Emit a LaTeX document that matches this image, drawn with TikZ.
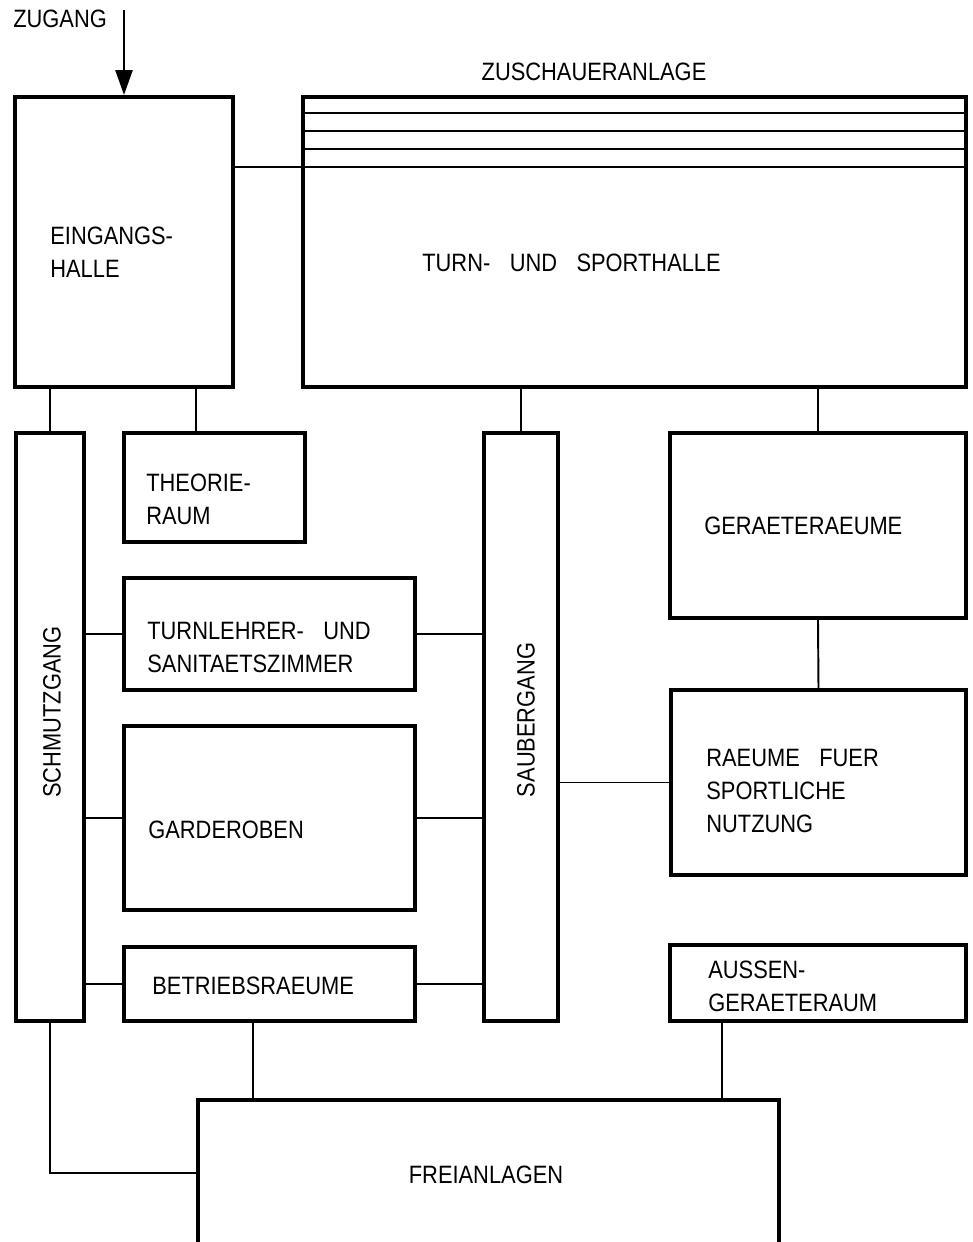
\documentclass[tikz,border=0pt]{standalone}
\usepackage{fontspec}
\setmainfont[FakeStretch=0.87,WordSpace=3.2]{Liberation Sans}
\usetikzlibrary{arrows.meta, positioning, calc}

\begin{document}
\begin{tikzpicture}[x=0.02cm, y=-0.02cm,
    every node/.style={font=\fontsize{14.3}{18.8}\selectfont},
    raum/.style={draw, line width=2.3pt, inner sep=0pt},
    txt/.style={anchor=west, align=left, inner sep=0pt},
    link/.style={line width=1.1pt},
    stripe/.style={line width=1.3pt}]
    \path[use as bounding box, clip] (0,0) rectangle (973,1242);

    % Raeume
    \node[raum, minimum width=4.36cm, minimum height=5.8cm] (eingang) at (124,242) {};
    \node[raum, minimum width=13.26cm, minimum height=5.8cm] (halle) at (634.5,242) {};
    \node[raum, minimum width=1.36cm, minimum height=11.76cm] (schmutz) at (50,727) {};
    \node[raum, minimum width=3.62cm, minimum height=2.18cm] (theorie) at (214.5,487.5) {};
    \node[raum, minimum width=1.48cm, minimum height=11.76cm] (sauber) at (521,727) {};
    \node[raum, minimum width=5.92cm, minimum height=3.7cm] (geraete) at (818,525.5) {};
    \node[raum, minimum width=5.82cm, minimum height=2.24cm] (turnlehrer) at (269.5,634) {};
    \node[raum, minimum width=5.82cm, minimum height=3.68cm] (garderoben) at (269.5,818) {};
    \node[raum, minimum width=5.9cm, minimum height=3.7cm] (sportraum) at (818.5,782.5) {};
    \node[raum, minimum width=5.82cm, minimum height=1.48cm] (betrieb) at (269.5,984) {};
    \node[raum, minimum width=5.92cm, minimum height=1.52cm] (aussen) at (818,983) {};
    \node[raum, minimum width=11.62cm, minimum height=4cm] (frei) at (488.5,1200) {};

    % Zuschaueranlage
    \foreach \y in {113,131,149,167} {
        \draw[stripe] (halle.west |- 0,\y) -- (halle.east |- 0,\y);
    }

    % Beschriftung
    \node[txt] (zugangtxt) at (13,19) {ZUGANG};
    \node (zuschauertxt) at (594,72) {ZUSCHAUERANLAGE};
    \node[txt] (eingangtxt) at (50,252) {EINGANGS-\\HALLE};
    \node[txt] (halletxt) at (422,263) {TURN- UND SPORTHALLE};
    \node[txt] (theorietxt) at (146,499) {THEORIE-\\RAUM};
    \node[txt] (turnlehrertxt) at (147,647) {TURNLEHRER- UND\\SANITAETSZIMMER};
    \node[txt] (garderobentxt) at (148,830) {GARDEROBEN};
    \node[txt] (betriebtxt) at (152,986) {BETRIEBSRAEUME};
    \node[txt] (geraetetxt) at (704,526) {GERAETERAEUME};
    \node[txt] (sportraumtxt) at (706,791) {RAEUME FUER\\SPORTLICHE\\NUTZUNG};
    \node[txt] (aussentxt) at (708,986) {AUSSEN-\\GERAETERAUM};
    \node (freitxt) at (486,1175) {FREIANLAGEN};
    \node[rotate=90] (schmutztxt) at (52,712) {SCHMUTZGANG};
    \node[rotate=90] (saubertxt) at (526,720) {SAUBERGANG};

    % Zugang
    \coordinate (zugangpt) at (124,10);
    \draw[line width=1.5pt, -{Triangle[length=0.5cm, width=0.34cm]}] (zugangpt) -- (eingang.north);

    % Verbindungen
    \draw[link] (eingang.east |- 0,167) -- (halle.west |- 0,167);
    \draw[link] (schmutz.north) -- (schmutz.north |- eingang.south);
    \draw[link] (theorie.north -| 196,0) -- (eingang.south -| 196,0);
    \draw[link] (sauber.north) -- (sauber.north |- halle.south);
    \draw[link] (geraete.north) -- (geraete.north |- halle.south);
    \draw[link] (geraete.south) -- (sportraum.north);
    \draw[link] (turnlehrer.west) -- (turnlehrer.west -| schmutz.east);
    \draw[link] (turnlehrer.east) -- (turnlehrer.east -| sauber.west);
    \draw[link] (garderoben.west) -- (garderoben.west -| schmutz.east);
    \draw[link] (garderoben.east) -- (garderoben.east -| sauber.west);
    \draw[link] (betrieb.west) -- (betrieb.west -| schmutz.east);
    \draw[link] (betrieb.east) -- (betrieb.east -| sauber.west);
    \draw[link] (sportraum.west) -- (sportraum.west -| sauber.east);
    \draw[link] (betrieb.south -| 253,0) -- (frei.north -| 253,0);
    \draw[link] (aussen.south -| 722,0) -- (frei.north -| 722,0);
    \draw[link] (schmutz.south) |- (frei.west |- 0,1173);

\end{tikzpicture}
\end{document}
